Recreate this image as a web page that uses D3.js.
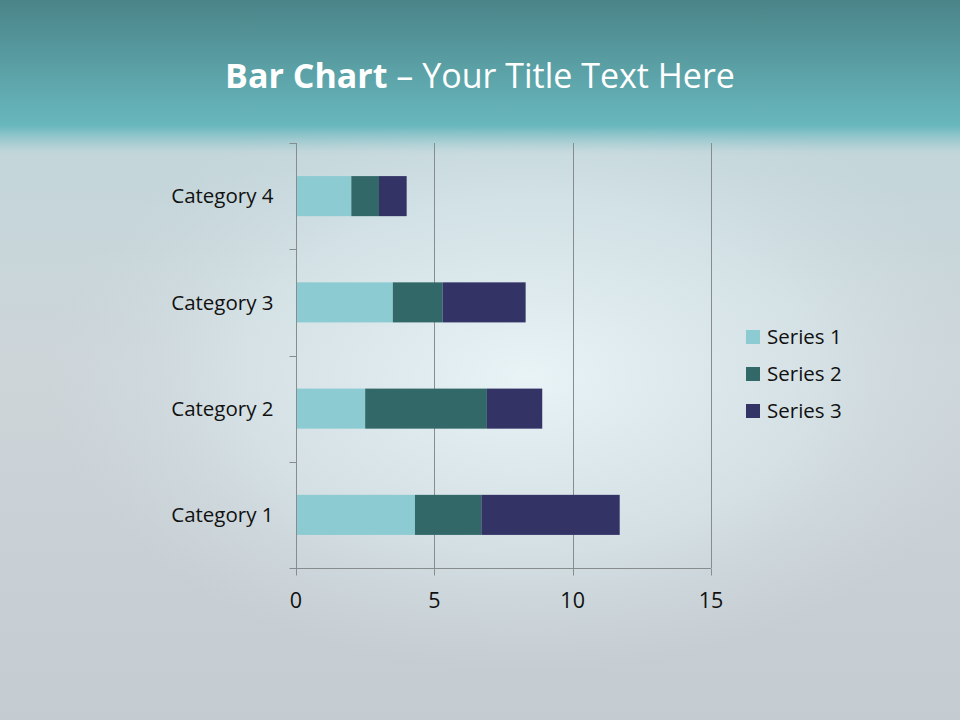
<!DOCTYPE html>
<html><head><meta charset="utf-8">
<script src="https://cdn.jsdelivr.net/npm/d3@7"></script>
<style>html,body{margin:0;padding:0;overflow:hidden;}svg{display:block;}</style>
</head><body>
<svg id="c" width="960" height="720"></svg>
<script>
const categories = ["Category 1", "Category 2", "Category 3", "Category 4"];
const seriesNames = ["Series 1", "Series 2", "Series 3"];
const series1 = [4.3, 2.5, 3.5, 2];
const series2 = [2.4, 4.4, 1.8, 1];
const series3 = [5, 2, 3, 1];
const xTicks = [0, 5, 10, 15];
const colors = ["#8ccbd2", "#336868", "#333366"];

(function () {
const svg = d3.select("#c");
const defs = svg.append("defs");
const FONT = "'Open Sans', sans-serif";

// background
const bg = defs.append("linearGradient").attr("id", "bg").attr("x1", 0).attr("y1", 0).attr("x2", 0).attr("y2", 1);
[[0, "#4a8488"], [0.17, "#68b5bb"], [0.18, "#9fc9cf"], [0.21, "#c3d6da"], [0.5, "#cdd5d9"], [1, "#c5ccd1"]]
  .forEach(([o, c]) => bg.append("stop").attr("offset", o).attr("stop-color", c));
svg.append("rect").attr("width", 960).attr("height", 720).attr("fill", "url(#bg)");

const glow = defs.append("radialGradient").attr("id", "glow").attr("cx", 0.55).attr("cy", 0.42).attr("r", 0.5);
[[0, "#eaf5f8", 0.95], [0.6, "#dcebef", 0.55], [1, "#d0dde1", 0]]
  .forEach(([o, c, a]) => glow.append("stop").attr("offset", o).attr("stop-color", c).attr("stop-opacity", a));
svg.append("rect").attr("x", 0).attr("y", 128).attr("width", 960).attr("height", 592).attr("fill", "url(#glow)");

const topG = defs.append("linearGradient").attr("id", "topg").attr("x1", 0).attr("y1", 0).attr("x2", 0).attr("y2", 1);
[[0, "#4a8488"], [1, "#68b8be"]].forEach(([o, c]) => topG.append("stop").attr("offset", o).attr("stop-color", c));
svg.append("rect").attr("width", 960).attr("height", 126).attr("fill", "url(#topg)");
const fade = defs.append("linearGradient").attr("id", "fade").attr("x1", 0).attr("y1", 0).attr("x2", 0).attr("y2", 1);
[[0, "#6ab8be", 1], [1, "#b5d3d8", 0]].forEach(([o, c, a]) => fade.append("stop").attr("offset", o).attr("stop-color", c).attr("stop-opacity", a));
svg.append("rect").attr("y", 126).attr("width", 960).attr("height", 30).attr("fill", "url(#fade)");

// title
const title = svg.append("text").attr("x", 480).attr("y", 88).attr("text-anchor", "middle")
  .attr("font-family", FONT).attr("font-size", 34).attr("fill", "#ffffff");
title.append("tspan").attr("font-weight", "bold").text("Bar Chart");
title.append("tspan").attr("font-weight", 400).text(" \u2013 Your Title Text Here");

// scales
const pLeft = 296, pRight = 711, pTop = 143, pBottom = 568;
const x = d3.scaleLinear().domain([0, 15]).range([pLeft, pRight]);
const y = d3.scaleBand().domain(categories).range([pBottom, pTop]).padding(0);

// gridlines
svg.append("g").selectAll("line").data(xTicks.slice(1)).join("line")
  .attr("x1", d => Math.round(x(d)) + 0.5).attr("x2", d => Math.round(x(d)) + 0.5).attr("y1", pTop).attr("y2", pBottom)
  .attr("stroke", "#878c8f").attr("stroke-width", 1);

// stacked data
const rows = categories.map((c, i) => ({ cat: c, "Series 1": series1[i], "Series 2": series2[i], "Series 3": series3[i] }));
const stack = d3.stack().keys(seriesNames)(rows);
const barH = y.bandwidth() * 0.377;
const barOff = (y.bandwidth() - barH) / 2;
svg.append("g").selectAll("g").data(stack).join("g").attr("fill", (d, i) => colors[i])
  .selectAll("rect").data(d => d).join("rect")
  .attr("x", d => x(d[0])).attr("width", d => x(d[1]) - x(d[0]))
  .attr("y", d => y(d.data.cat) + barOff).attr("height", barH);

// axes
const yAxis = svg.append("g").attr("transform", `translate(${pLeft + 0.5},0)`);
yAxis.append("line").attr("y1", pTop).attr("y2", pBottom).attr("stroke", "#878c8f");
const bounds = categories.map(c => y(c)).concat([pBottom]);
yAxis.selectAll("line.t").data(bounds).join("line").attr("class", "t")
  .attr("x1", -7).attr("x2", 0).attr("y1", d => Math.round(d) + 0.5).attr("y2", d => Math.round(d) + 0.5).attr("stroke", "#878c8f");
yAxis.selectAll("text").data(categories).join("text")
  .attr("x", -23).attr("y", d => y(d) + y.bandwidth() / 2).attr("dy", "0.35em")
  .attr("text-anchor", "end").attr("font-family", FONT).attr("font-size", 20.5).attr("fill", "#111")
  .text(d => d);

const xAxis = svg.append("g").attr("transform", `translate(0,${pBottom + 0.5})`);
xAxis.append("line").attr("x1", pLeft).attr("x2", pRight).attr("stroke", "#878c8f");
xAxis.selectAll("line.t").data(xTicks).join("line").attr("class", "t")
  .attr("x1", d => Math.round(x(d)) + 0.5).attr("x2", d => Math.round(x(d)) + 0.5).attr("y1", 0).attr("y2", 7).attr("stroke", "#878c8f");
xAxis.selectAll("text").data(xTicks).join("text")
  .attr("x", d => x(d)).attr("y", 39).attr("text-anchor", "middle")
  .attr("font-family", FONT).attr("font-size", 21.5).attr("fill", "#111")
  .text(d => d);

// legend
const lg = svg.append("g").attr("transform", "translate(746,337)");
const li = lg.selectAll("g").data(seriesNames).join("g").attr("transform", (d, i) => `translate(0,${i * 37})`);
li.append("rect").attr("x", 0).attr("y", -7).attr("width", 14).attr("height", 14).attr("fill", (d, i) => colors[i]);
li.append("text").attr("x", 21).attr("y", 0).attr("dy", "0.35em")
  .attr("font-family", FONT).attr("font-size", 20.5).attr("fill", "#111").text(d => d);
})();
</script>
</body></html>
